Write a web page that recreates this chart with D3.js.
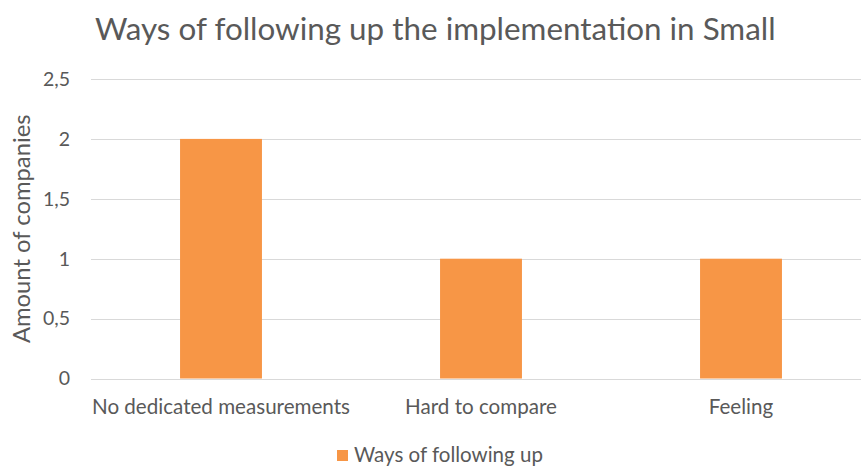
<!DOCTYPE html>
<html>
<head>
<meta charset="utf-8">
<script src="https://cdn.jsdelivr.net/npm/d3@7"></script>
<style>
  html, body { margin: 0; padding: 0; background: #fff; }
  svg { display: block; font-family: Lato, "Open Sans", sans-serif; }
</style>
</head>
<body>
<svg id="chart" width="861" height="468"></svg>
<script>
const titleText = "Ways of following up the implementation in Small";
const yAxisTitle = "Amount of companies";
const seriesName = "Ways of following up";
const categories = ["No dedicated measurements", "Hard to compare", "Feeling"];
const values = [2, 1, 1];
const yTicks = [0, 0.5, 1, 1.5, 2, 2.5];

const svg = d3.select("#chart");
const textColor = "#595959";
const barColor = "#F79646";
const gridColor = "#D9D9D9";

const x = d3.scaleBand()
  .domain(categories)
  .range([91, 871])
  .paddingInner(0.685)
  .paddingOuter(0.3425);

const y = d3.scaleLinear()
  .domain([0, 2.5])
  .range([378.5, 79]);

const fmt = v => String(v).replace(".", ",");

// horizontal gridlines
svg.append("g")
  .selectAll("line")
  .data(yTicks)
  .join("line")
  .attr("x1", 91)
  .attr("x2", 871)
  .attr("y1", d => Math.round(y(d)) + 0.5)
  .attr("y2", d => Math.round(y(d)) + 0.5)
  .attr("stroke", gridColor)
  .attr("stroke-width", 1);

// y tick labels
svg.append("g")
  .selectAll("text")
  .data(yTicks)
  .join("text")
  .attr("x", 70)
  .attr("y", d => y(d))
  .attr("dy", "0.35em")
  .attr("text-anchor", "end")
  .attr("fill", textColor)
  .attr("font-size", 19.5)
  .text(fmt);

// bars
svg.append("g")
  .selectAll("rect")
  .data(values)
  .join("rect")
  .attr("x", (d, i) => x(categories[i]))
  .attr("width", x.bandwidth())
  .attr("y", d => y(d))
  .attr("height", d => y(0) - y(d))
  .attr("fill", barColor);

// category labels
svg.append("g")
  .selectAll("text")
  .data(categories)
  .join("text")
  .attr("x", d => x(d) + x.bandwidth() / 2)
  .attr("y", 413.5)
  .attr("text-anchor", "middle")
  .attr("fill", textColor)
  .attr("font-size", 20.6)
  .text(d => d);

// y axis title
svg.append("text")
  .attr("transform", `translate(30, ${(y(0) + y(2.5)) / 2}) rotate(-90)`)
  .attr("text-anchor", "middle")
  .attr("fill", textColor)
  .attr("font-size", 23.8)
  .text(yAxisTitle);

// chart title
svg.append("text")
  .attr("x", 95)
  .attr("y", 39.5)
  .attr("fill", textColor)
  .attr("font-size", 31.4)
  .text(titleText);

// legend
const legend = svg.append("g");
legend.append("rect")
  .attr("x", 337)
  .attr("y", 450)
  .attr("width", 11)
  .attr("height", 11)
  .attr("fill", barColor);
legend.append("text")
  .attr("x", 354)
  .attr("y", 461.5)
  .attr("fill", textColor)
  .attr("font-size", 20.5)
  .text(seriesName);
</script>
</body>
</html>
